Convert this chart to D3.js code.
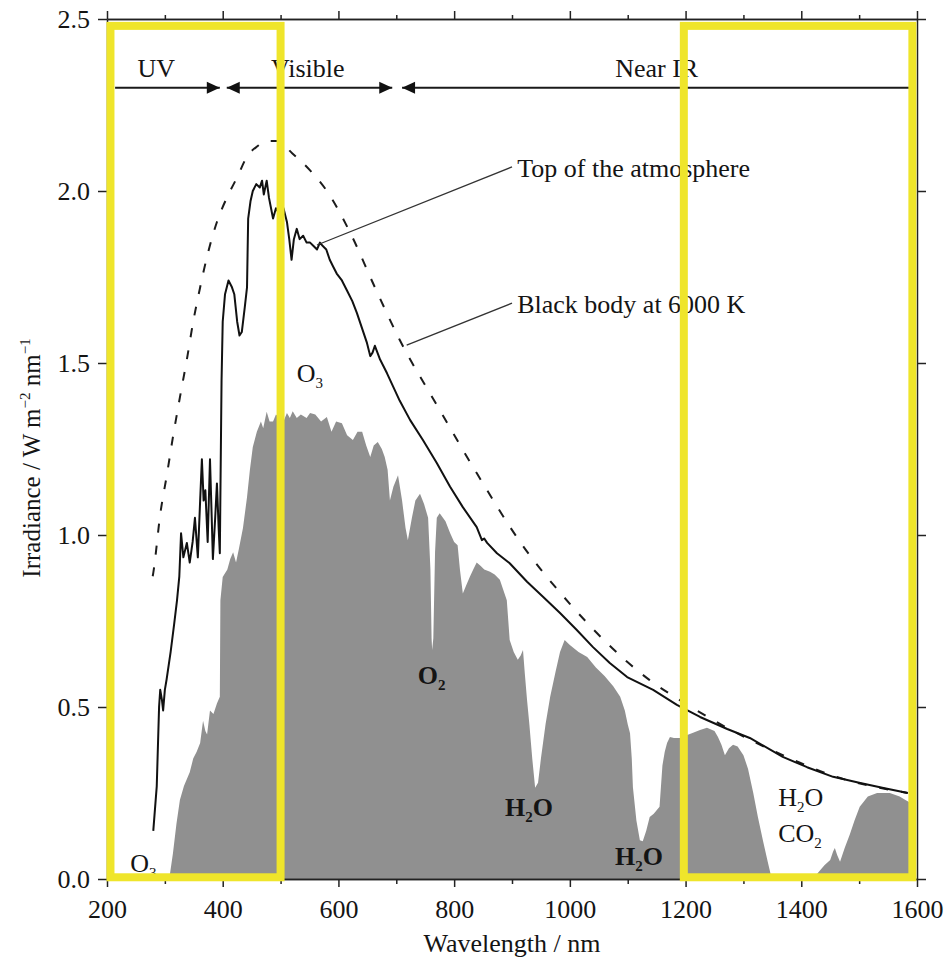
<!DOCTYPE html>
<html>
<head>
<meta charset="utf-8">
<script src="https://cdn.jsdelivr.net/npm/d3@7"></script>
<style>
  body { margin: 0; background: #fff; }
  svg text { font-family: "Liberation Serif", "Times New Roman", serif; fill: #141414; }
</style>
</head>
<body>
<svg id="chart"></svg>
<script>
// wavelength (nm), irradiance (W m-2 nm-1)
const blackBody = [
	[279,0.88],[280,0.89],[292,1.06],[304,1.18],[314,1.285],[326,1.40],[338,1.51],[349,1.62],
	[361,1.72],[373,1.81],[390,1.91],[407,1.98],[425,2.04],[442,2.10],[460,2.13],[476,2.145],
	[495,2.145],[520,2.11],[551,2.06],[580,2.00],[620,1.88],[663,1.72],[706,1.567],[770,1.378],
	[839,1.18],[914,0.98],[1000,0.80],[1064,0.686],[1100,0.63],[1138,0.578],[1200,0.51],
	[1282,0.43],[1368,0.36],[1455,0.30],[1584,0.25]
];

const topOfAtmosphere = [
	[280,0.14],[286,0.27],[290,0.50],[292,0.55],[295,0.52],[297,0.49],[300,0.55],[303,0.58],
	[310,0.66],[316,0.74],[321,0.81],[325,0.88],[328,1.005],[332,0.935],[338,0.977],[343,0.92],
	[348,0.98],[352,1.05],[357,0.935],[361,1.10],[364,1.22],[367,1.10],[370,1.13],[374,0.98],
	[378,1.22],[381,1.05],[383,0.93],[387,1.05],[390,1.15],[393,1.02],[395,0.947],[398,1.45],
	[400,1.62],[404,1.70],[410,1.74],[416,1.72],[420,1.70],[425,1.62],[429,1.58],[433,1.59],
	[438,1.66],[442,1.72],[444,1.92],[448,1.97],[452,2.00],[458,2.02],[464,2.01],[468,2.03],
	[471,1.99],[476,2.03],[480,1.98],[487,1.92],[492,1.95],[499,1.93],[505,1.95],[511,1.91],
	[515,1.86],[519,1.80],[523,1.86],[528,1.89],[533,1.86],[539,1.87],[545,1.85],[551,1.85],
	[557,1.84],[563,1.83],[568,1.85],[573,1.84],[579,1.83],[585,1.80],[591,1.78],[597,1.76],
	[606,1.74],[615,1.71],[624,1.68],[632,1.645],[641,1.60],[649,1.56],[655,1.52],[659,1.53],
	[663,1.55],[672,1.51],[684,1.47],[695,1.43],[706,1.39],[724,1.334],[746,1.276],[770,1.209],
	[793,1.14],[815,1.081],[839,1.023],[848,0.985],[852,0.99],[857,0.977],[874,0.947],[896,0.918],
	[926,0.864],[954,0.82],[983,0.773],[1012,0.724],[1040,0.674],[1069,0.628],[1099,0.587],
	[1144,0.55],[1185,0.506],[1225,0.471],[1272,0.436],[1311,0.41],[1368,0.355],[1410,0.325],
	[1455,0.297],[1500,0.28],[1540,0.265],[1584,0.25]
];

const atSurface = [
	[305,0],[309,0.017],[314,0.075],[320,0.16],[326,0.23],[333,0.27],[343,0.31],[349,0.35],
	[355,0.37],[361,0.395],[366,0.46],[370,0.43],[373,0.42],[378,0.49],[384,0.48],[390,0.51],
	[395,0.53],[396,0.81],[400,0.878],[408,0.90],[413,0.93],[418,0.95],[423,0.92],[428,0.96],
	[435,1.02],[442,1.11],[447,1.19],[452,1.256],[459,1.30],[466,1.33],[470,1.31],[476,1.358],
	[481,1.33],[487,1.33],[492,1.35],[499,1.34],[505,1.33],[511,1.355],[516,1.34],[521,1.36],
	[528,1.34],[535,1.35],[545,1.34],[551,1.355],[560,1.35],[570,1.33],[580,1.343],[588,1.30],
	[596,1.33],[606,1.325],[615,1.29],[625,1.276],[633,1.30],[641,1.30],[648,1.26],[655,1.227],
	[661,1.26],[668,1.27],[675,1.25],[680,1.227],[685,1.19],[689,1.10],[695,1.14],[703,1.174],
	[710,1.10],[716,1.02],[720,0.985],[727,1.05],[733,1.10],[741,1.12],[748,1.09],[755,1.05],
	[759,0.90],[761,0.70],[762,0.666],[764,0.70],[767,0.95],[770,1.05],[775,1.063],[785,1.04],
	[793,1.006],[800,0.98],[806,0.97],[810,0.90],[815,0.83],[820,0.85],[827,0.878],[833,0.90],
	[839,0.92],[846,0.91],[852,0.90],[862,0.893],[870,0.885],[879,0.87],[885,0.84],[891,0.81],
	[896,0.695],[903,0.66],[910,0.637],[915,0.65],[919,0.666],[922,0.60],[926,0.52],[930,0.45],
	[935,0.35],[940,0.265],[945,0.28],[950,0.35],[958,0.45],[966,0.53],[975,0.60],[983,0.66],
	[991,0.695],[1000,0.68],[1015,0.66],[1030,0.645],[1045,0.615],[1060,0.59],[1075,0.56],
	[1087,0.53],[1095,0.49],[1100,0.45],[1104,0.424],[1107,0.35],[1109,0.267],[1115,0.17],
	[1121,0.113],[1126,0.11],[1132,0.14],[1138,0.18],[1145,0.19],[1155,0.21],[1160,0.33],
	[1164,0.37],[1168,0.395],[1173,0.413],[1180,0.41],[1190,0.41],[1204,0.419],[1213,0.425],
	[1225,0.433],[1237,0.44],[1250,0.43],[1256,0.413],[1262,0.39],[1268,0.36],[1275,0.38],
	[1282,0.39],[1290,0.385],[1300,0.36],[1308,0.32],[1317,0.25],[1325,0.18],[1334,0.11],
	[1342,0.05],[1349,0],[1420,0],[1430,0.02],[1440,0.04],[1450,0.055],[1455,0.08],[1458,0.09],
	[1462,0.07],[1467,0.05],[1475,0.09],[1484,0.13],[1492,0.17],[1501,0.21],[1515,0.24],
	[1531,0.25],[1553,0.25],[1570,0.24],[1580,0.23],[1590,0.22],[1590,0]
];

const xTicks = [200, 400, 600, 800, 1000, 1200, 1400, 1600];
const xMinorTicks = [300, 500, 700, 900, 1100, 1300, 1500];
const yTicks = [0, 0.5, 1.0, 1.5, 2.0, 2.5];

// spectral bands shown with arrows at the top
const bandNames = ['UV', 'Visible', 'Near IR'];
const bandStart = [214, 407, 710];
const bandEnd = [395, 693, 1588];
const bandLabelAt = [285, 547, 1150];

// highlighted wavelength windows
const boxStart = [206, 1197];
const boxEnd = [500, 1592];

const margin = {top: 19, right: 35, bottom: 84, left: 107};
const width = 952 - margin.left - margin.right;
const height = 963 - margin.top - margin.bottom;

const svg = d3.select('#chart')
	.attr('width', 952)
	.attr('height', 963);

const x = d3.scaleLinear().domain([200, 1600]).range([margin.left, margin.left + width]);
const y = d3.scaleLinear().domain([0, 2.5]).range([margin.top + height, margin.top]);

// ground-level spectrum
svg.append('path')
	.datum(atSurface)
	.attr('d', d3.area().x(d => x(d[0])).y0(y(0)).y1(d => y(d[1])))
	.attr('fill', '#909090');

svg.append('path')
	.datum(blackBody)
	.attr('d', d3.line().x(d => x(d[0])).y(d => y(d[1])).curve(d3.curveMonotoneX))
	.attr('fill', 'none')
	.attr('stroke', '#1c1c1c')
	.attr('stroke-width', 2)
	.attr('stroke-dasharray', '9,13');

svg.append('path')
	.datum(topOfAtmosphere)
	.attr('d', d3.line().x(d => x(d[0])).y(d => y(d[1])))
	.attr('fill', 'none')
	.attr('stroke', '#111')
	.attr('stroke-width', 2)
	.attr('stroke-linejoin', 'round');

// axes
const axisStyle = g => {
	g.select('.domain').attr('stroke', '#222').attr('stroke-width', 1.5);
	g.selectAll('.tick line').attr('stroke', '#222').attr('stroke-width', 1.5);
	g.selectAll('text')
		.attr('font-family', null)
		.style('font-size', '26px')
		.style('fill', '#141414');
	g.attr('font-family', null).attr('font-size', null);
};

svg.append('g')
	.attr('transform', `translate(${margin.left},0)`)
	.call(d3.axisLeft(y).tickValues(yTicks).tickFormat(d3.format('.1f')).tickSize(9).tickSizeOuter(0).tickPadding(8))
	.call(axisStyle);

svg.append('g')
	.attr('transform', `translate(${margin.left + width},0)`)
	.call(d3.axisRight(y).tickValues(yTicks).tickFormat('').tickSize(9).tickSizeOuter(0))
	.call(axisStyle);

svg.append('g')
	.attr('transform', `translate(0,${margin.top + height})`)
	.call(d3.axisBottom(x).tickValues(xTicks).tickFormat(d3.format('d')).tickSize(8).tickSizeOuter(0).tickPadding(13))
	.call(axisStyle);

svg.append('g')
	.attr('transform', `translate(0,${margin.top + height})`)
	.call(d3.axisBottom(x).tickValues(xMinorTicks).tickFormat('').tickSize(5).tickSizeOuter(0))
	.call(axisStyle);

svg.append('g')
	.attr('transform', `translate(0,${margin.top})`)
	.call(d3.axisTop(x).tickValues(xTicks).tickFormat('').tickSize(8).tickSizeOuter(0))
	.call(axisStyle);

svg.append('g')
	.attr('transform', `translate(0,${margin.top})`)
	.call(d3.axisTop(x).tickValues(xMinorTicks).tickFormat('').tickSize(4).tickSizeOuter(0))
	.call(axisStyle);

// axis titles
svg.append('text')
	.attr('x', margin.left + width / 2)
	.attr('y', 952)
	.attr('text-anchor', 'middle')
	.style('font-size', '26px')
	.text('Wavelength / nm');

const yTitle = svg.append('text')
	.attr('transform', 'translate(40,458) rotate(-90)')
	.attr('text-anchor', 'middle')
	.style('font-size', '25px');
yTitle.append('tspan').text('Irradiance / W m');
yTitle.append('tspan').attr('dy', -10).style('font-size', '15px').text('\u22122');
yTitle.append('tspan').attr('dy', 10).text(' nm');
yTitle.append('tspan').attr('dy', -10).style('font-size', '15px').text('\u22121');

// band arrows
const arrowLevel = 2.30;
const head = (tip, dir) => {
	const ay = y(arrowLevel);
	return `M${tip},${ay}L${tip - dir * 13},${ay - 6}L${tip - dir * 13},${ay + 6}Z`;
};
bandNames.forEach((name, i) => {
	const x0 = x(bandStart[i]), x1 = x(bandEnd[i]);
	svg.append('line')
		.attr('x1', x0).attr('x2', x1)
		.attr('y1', y(arrowLevel)).attr('y2', y(arrowLevel))
		.attr('stroke', '#1a1a1a').attr('stroke-width', 2);
	if (i > 0) svg.append('path').attr('d', head(x0, -1)).attr('fill', '#111');
	if (i < 2) svg.append('path').attr('d', head(x1, 1)).attr('fill', '#111');
	svg.append('text')
		.attr('x', x(bandLabelAt[i]))
		.attr('y', y(arrowLevel) - 11)
		.attr('text-anchor', 'middle')
		.style('font-size', '26px')
		.text(name);
});

// curve labels with leader lines
const curveLabels = [
	{text: 'Top of the atmosphere', at: [909, 2.041], from: [900, 2.07], to: [563, 1.843]},
	{text: 'Black body at 6000 K', at: [909, 1.645], from: [900, 1.674], to: [718, 1.552]}
];
curveLabels.forEach(c => {
	svg.append('line')
		.attr('x1', x(c.from[0])).attr('y1', y(c.from[1]))
		.attr('x2', x(c.to[0])).attr('y2', y(c.to[1]))
		.attr('stroke', '#333').attr('stroke-width', 1.3);
	svg.append('text')
		.attr('x', x(c.at[0])).attr('y', y(c.at[1]))
		.style('font-size', '26px')
		.text(c.text);
});

// absorber labels: [base, subscript, tail]
const absorbers = [
	{parts: ['O', '3', ''], at: [528, 1.445], bold: false},
	{parts: ['O', '3', ''], at: [240, 0.02], bold: false},
	{parts: ['O', '2', ''], at: [737, 0.567], bold: true},
	{parts: ['H', '2', 'O'], at: [888, 0.183], bold: true},
	{parts: ['H', '2', 'O'], at: [1078, 0.04], bold: true},
	{parts: ['H', '2', 'O'], at: [1360, 0.212], bold: false},
	{parts: ['CO', '2', ''], at: [1360, 0.108], bold: false}
];
absorbers.forEach(a => {
	const t = svg.append('text')
		.attr('x', x(a.at[0])).attr('y', y(a.at[1]))
		.style('font-size', '26px')
		.style('font-weight', a.bold ? 'bold' : 'normal');
	t.append('tspan').text(a.parts[0]);
	t.append('tspan').attr('dy', 6).style('font-size', '15px').text(a.parts[1]);
	if (a.parts[2]) t.append('tspan').attr('dy', -6).text(a.parts[2]);
});

// yellow highlight boxes drawn over everything
boxStart.forEach((b, i) => {
	svg.append('rect')
		.attr('x', x(b))
		.attr('y', y(2.48))
		.attr('width', x(boxEnd[i]) - x(b))
		.attr('height', y(0.005) - y(2.48))
		.attr('fill', 'none')
		.attr('stroke', '#efe52b')
		.attr('stroke-width', 8);
});
</script>
</body>
</html>
